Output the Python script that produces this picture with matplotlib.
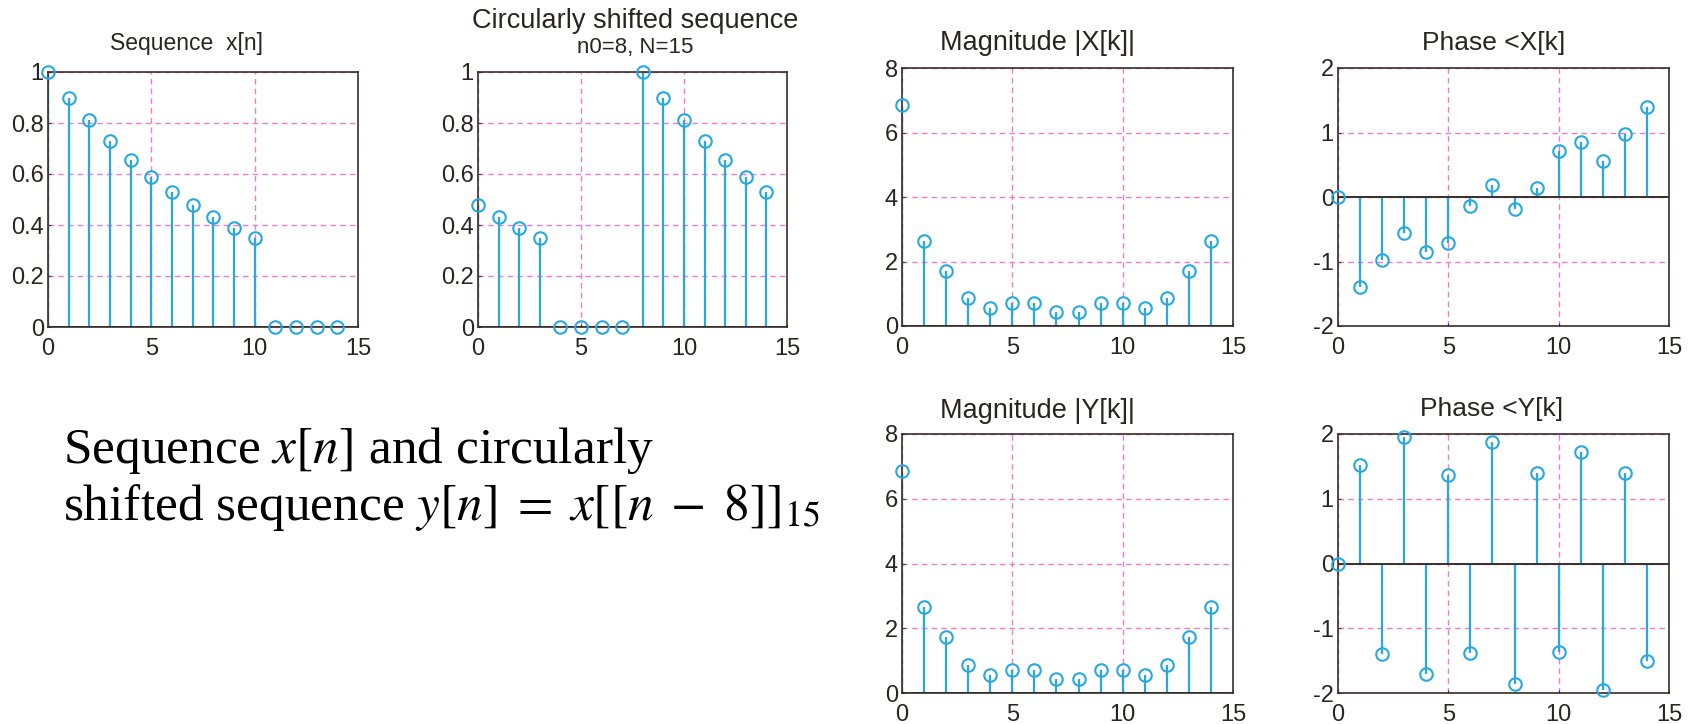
import matplotlib
matplotlib.use("Agg")
import matplotlib.pyplot as plt

# sample index
n = list(range(15))

# x[n] and its circular shift by 8 (N=15)
x_seq = [1.0, 0.9, 0.81, 0.729, 0.656, 0.59, 0.531, 0.478, 0.43, 0.387, 0.349, 0, 0, 0, 0]
y_seq = [0.478, 0.43, 0.387, 0.349, 0, 0, 0, 0, 1.0, 0.9, 0.81, 0.729, 0.656, 0.59, 0.531]

# DFT magnitude (same for both) and phases
mag_x = [6.86, 2.65, 1.72, 0.88, 0.55, 0.72, 0.72, 0.44, 0.44, 0.72, 0.72, 0.55, 0.88, 1.72, 2.65]
mag_y = [6.86, 2.65, 1.72, 0.88, 0.55, 0.72, 0.72, 0.44, 0.44, 0.72, 0.72, 0.55, 0.88, 1.72, 2.65]
phase_x = [0, -1.40, -0.97, -0.56, -0.86, -0.72, -0.14, 0.19, -0.19, 0.14, 0.72, 0.86, 0.56, 0.97, 1.40]
phase_y = [0, 1.52, -1.40, 1.96, -1.70, 1.37, -1.38, 1.88, -1.86, 1.39, -1.36, 1.72, -1.96, 1.40, -1.50]

STEM = "#27a8e0"
GRID = "#e47fd4"
FRAME = "#3a2e28"
TXT = "#2a2522"

plt.rcParams["font.family"] = ["Liberation Sans", "DejaVu Sans"]
plt.rcParams["axes.unicode_minus"] = False
plt.rcParams["mathtext.fontset"] = "stix"

W, H = 1696, 724
fig = plt.figure(figsize=(W / 100, H / 100), dpi=100)


def make_axes(left, top, right, bottom):
    return fig.add_axes([left / W, 1 - bottom / H, (right - left) / W, (bottom - top) / H])


def title_at(cx, baseline, text, size):
    # titles sit a little off-centre in the original, so place them by hand
    fig.text(cx / W, 1 - baseline / H, text, fontsize=size, color=TXT, ha="center", va="baseline")


def stem_plot(ax, vals, ylim, yticks):
    ml, sl, bl = ax.stem(n, vals, linefmt="-", markerfmt="o", basefmt=" ")
    plt.setp(sl, color=STEM, linewidth=1.6)
    plt.setp(ml, color=STEM, markerfacecolor="none", markersize=9, markeredgewidth=1.5, clip_on=False, zorder=4)
    ax.axhline(0, color=FRAME, linewidth=1.4, zorder=3)
    ax.set_xlim(0, 15)
    ax.set_ylim(*ylim)
    ax.set_xticks([0, 5, 10, 15])
    ax.set_yticks(yticks)
    ax.grid(True, color=GRID, linestyle=(0, (4, 3)), linewidth=1.0)
    ax.set_axisbelow(True)
    for s in ax.spines.values():
        s.set_color(FRAME)
        s.set_linewidth(1.2)
    ax.tick_params(direction="in", length=2, color=FRAME, labelsize=17, labelcolor=TXT)
    ax.tick_params(axis="x", pad=8)
    ax.tick_params(axis="y", pad=3)


seq_ticks = [0, 0.2, 0.4, 0.6, 0.8, 1]
seq_labels = ["0", "0.2", "0.4", "0.6", "0.8", "1"]

ax1 = make_axes(48, 72, 358, 327)
stem_plot(ax1, x_seq, (0, 1), seq_ticks)
ax1.set_yticklabels(seq_labels)
title_at(187, 50, "Sequence  x[n]", 16.5)

ax2 = make_axes(478, 72, 787, 327)
stem_plot(ax2, y_seq, (0, 1), seq_ticks)
ax2.set_yticklabels(seq_labels)
title_at(635, 28, "Circularly shifted sequence", 19.5)
title_at(635, 53, "n0=8, N=15", 16)

ax3 = make_axes(902, 68, 1233, 326)
stem_plot(ax3, mag_x, (0, 8), [0, 2, 4, 6, 8])
title_at(1037, 50, "Magnitude |X[k]|", 19.5)

ax4 = make_axes(1338, 68, 1669, 326)
stem_plot(ax4, phase_x, (-2, 2), [-2, -1, 0, 1, 2])
title_at(1494, 50, "Phase <X[k]", 19)

ax5 = make_axes(902, 434, 1233, 693)
stem_plot(ax5, mag_y, (0, 8), [0, 2, 4, 6, 8])
title_at(1037, 418, "Magnitude |Y[k]|", 19.5)

ax6 = make_axes(1338, 434, 1669, 693)
stem_plot(ax6, phase_y, (-2, 2), [-2, -1, 0, 1, 2])
title_at(1492, 416, "Phase <Y[k]", 19)

# description text
serif = ["Liberation Serif", "DejaVu Serif"]
fig.text(63 / W, 1 - 463 / H, r"Sequence $x[n]$ and circularly",
         fontsize=37, family=serif, color="black", va="baseline")
fig.text(63 / W, 1 - 520 / H, r"shifted sequence $y[n]\;=\;x[[n\;-\;8]]_{15}$",
         fontsize=37, family=serif, color="black", va="baseline")

fig.savefig("out.png", dpi=100, facecolor="white")
